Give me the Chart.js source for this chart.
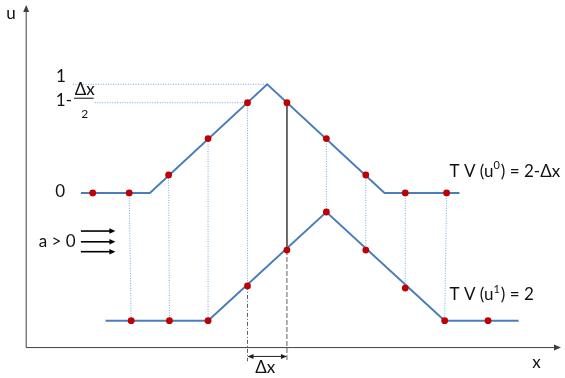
<!DOCTYPE html>
<html><head><meta charset="utf-8">
<script src="https://cdn.jsdelivr.net/npm/chart.js@4"></script>
<style>html,body{margin:0;padding:0;background:#fff}canvas{display:block}</style>
</head><body>
<canvas id="c" width="565" height="378"></canvas>
<script>
// x in units of the grid step Δx, u = solution value
// sampled points of u^0 (upper) and u^1 (lower)
const topX = [0.075, 1, 2, 3, 4, 5, 6, 7, 8, 9.05];
const topU = [0, 0, 0.165, 0.5, 0.83, 0.83, 0.5, 0.165, 0, 0];
const botX = [1.05, 2.02, 3, 4, 5, 6, 7, 8, 9, 10.1];
const botU = [0, 0, 0, 0.32, 0.65, 1, 0.65, 0.3, 0, 0];
// continuous profiles (vertices)
const u0X = [-0.225, 1.525, 4.5, 7.475, 9.375];
const u0U = [0, 0, 1, 0, 0];
const u1X = [0.4, 3, 6, 9, 10.875];
const u1U = [0, 0, 1, 0, 0];
// labels
const yTickLabels = ['1', '0'];
const yTickValues = [1, 0];
const fracLevel = 0.83;
const tvLabel0 = ['T V (u', '0', ') = 2-Δx'];
const tvLabel1 = ['T V (u', '1', ') = 2'];
const axisLabels = ['u', 'x'];
const deltaLabel = 'Δx';
const speedLabel = 'a > 0';

const LOWER = -1.1757;          // vertical shift of the u^1 profile
const AX_U = -1.4234, AX_X = -1.6125;

const pts = (xs, us, off = 0) => xs.map((x, i) => ({ x, y: us[i] + off }));

const BLUE = 'rgb(74,126,187)';
const RED = 'rgb(192,0,0)';
const GUIDE = 'rgba(91,155,213,0.85)';
const FONT = 'Lato, "Open Sans", sans-serif';

const datasets = [];
datasets.push({ data: pts(topX, topU), showLine: false, pointRadius: 3.4, pointBackgroundColor: RED, pointBorderWidth: 0, order: 0 });
datasets.push({ data: pts(botX, botU, LOWER), showLine: false, pointRadius: 3.4, pointBackgroundColor: RED, pointBorderWidth: 0, order: 0 });
datasets.push({ data: pts(u0X, u0U), showLine: true, borderColor: BLUE, borderWidth: 2, pointRadius: 0, order: 1 });
datasets.push({ data: pts(u1X, u1U, LOWER), showLine: true, borderColor: BLUE, borderWidth: 2, pointRadius: 0, order: 1 });
// vertical guides linking u^0_j to u^1_j
for (let j = 1; j < topX.length; j++) {
  const b = j - 1;
  const solid = (j === 5);
  datasets.push({
    data: [{ x: topX[j], y: topU[j] }, { x: botX[b], y: botU[b] + LOWER }],
    showLine: true, pointRadius: 0, order: 2,
    borderColor: solid ? '#555555' : GUIDE, borderWidth: 1,
    borderDash: solid ? [] : [1, 1.5]
  });
}
// dimension extension lines below the lower profile
[3, 4].forEach((b, k) => {
  datasets.push({
    data: [{ x: botX[b], y: botU[b] + LOWER }, { x: botX[b], y: -1.55 }],
    showLine: true, pointRadius: 0, order: 2,
    borderColor: '#606060', borderWidth: 1,
    borderDash: k === 0 ? [4, 2, 1, 2] : [5, 2]
  });
});
// horizontal guides to the u axis labels
datasets.push({ data: [{ x: -0.425, y: 1 }, { x: 4.5, y: 1 }], showLine: true, pointRadius: 0, order: 2, borderColor: GUIDE, borderWidth: 1, borderDash: [1, 1.5] });
datasets.push({ data: [{ x: 0.125, y: fracLevel }, { x: topX[4], y: fracLevel }], showLine: true, pointRadius: 0, order: 2, borderColor: GUIDE, borderWidth: 1, borderDash: [1, 1.5] });

function arrowHead(ctx, x, y, dir, len = 7, hw = 3) {
  ctx.save();
  ctx.translate(x, y); ctx.rotate(dir);
  ctx.beginPath(); ctx.moveTo(0, 0); ctx.lineTo(-len, -hw); ctx.lineTo(-len, hw); ctx.closePath();
  ctx.fill(); ctx.restore();
}
function runs(ctx, x, y, parts, size) {
  // parts: [normal, superscript, normal]
  ctx.textAlign = 'left'; ctx.textBaseline = 'middle';
  let cx = x;
  parts.forEach((p, i) => {
    const sup = i === 1;
    ctx.font = (sup ? Math.round(size * 0.62) : size) + 'px ' + FONT;
    ctx.fillText(p, cx, sup ? y - size * 0.32 : y);
    cx += ctx.measureText(p).width + (sup ? 1 : 0);
  });
}

const annot = {
  id: 'annot',
  afterDatasetsDraw(chart) {
    const ctx = chart.ctx, xs = chart.scales.x, ys = chart.scales.y;
    const X = v => xs.getPixelForValue(v), Y = v => ys.getPixelForValue(v);
    ctx.save();
    ctx.strokeStyle = '#404040'; ctx.fillStyle = '#404040'; ctx.lineWidth = 1;
    // axes
    ctx.beginPath();
    ctx.moveTo(X(AX_X), Y(AX_U)); ctx.lineTo(X(AX_X), Y(1.70));
    ctx.moveTo(X(AX_X), Y(AX_U)); ctx.lineTo(X(11.9), Y(AX_U));
    ctx.stroke();
    arrowHead(ctx, X(AX_X), Y(1.73), -Math.PI / 2);
    arrowHead(ctx, X(11.95), Y(AX_U), 0);
    // dimension arrow Δx
    ctx.fillStyle = '#202020'; ctx.strokeStyle = '#202020';
    const dy = Y(-1.505);
    ctx.beginPath(); ctx.moveTo(X(botX[3]) + 2, dy); ctx.lineTo(X(botX[4]) - 2, dy); ctx.stroke();
    arrowHead(ctx, X(botX[3]), dy, Math.PI, 6, 2.5);
    arrowHead(ctx, X(botX[4]), dy, 0, 6, 2.5);
    // a > 0 arrows
    ctx.fillStyle = '#000'; ctx.strokeStyle = '#000'; ctx.lineWidth = 1.6;
    [-0.351, -0.450, -0.541].forEach(u => {
      ctx.beginPath(); ctx.moveTo(X(-0.225), Y(u)); ctx.lineTo(X(0.55), Y(u)); ctx.stroke();
      arrowHead(ctx, X(0.65), Y(u), 0, 6, 2.8);
    });
    // texts
    ctx.fillStyle = '#111';
    const F = 17;
    ctx.font = F + 'px ' + FONT;
    ctx.textBaseline = 'middle';
    ctx.textAlign = 'center';
    ctx.fillText(axisLabels[0], 11, 14);
    ctx.fillText(axisLabels[1], X(11.33), Y(-1.56));
    ctx.fillText(yTickLabels[0], X(-0.73), Y(1) - 8);
    ctx.fillText(yTickLabels[1], X(-0.75), Y(yTickValues[1]) - 1);
    // 1 - Δx/2
    ctx.textAlign = 'right';
    ctx.fillText('1-', X(-0.45), Y(fracLevel) - 2);
    ctx.textAlign = 'center';
    ctx.fillText(deltaLabel, X(-0.125), Y(fracLevel) - 13);
    ctx.font = '12px ' + FONT;
    ctx.fillText('2', X(-0.125), Y(fracLevel) + 11);
    ctx.strokeStyle = '#111'; ctx.lineWidth = 1;
    ctx.beginPath(); ctx.moveTo(X(-0.4), Y(fracLevel) - 4.5); ctx.lineTo(X(0.1), Y(fracLevel) - 4.5); ctx.stroke();
    ctx.font = F + 'px ' + FONT;
    // a > 0
    ctx.textAlign = 'right';
    ctx.fillText(speedLabel, X(-0.36), Y(-0.45));
    // Δx below axis
    ctx.textAlign = 'center';
    ctx.fillText(deltaLabel, X(4.45), Y(-1.61));
    // TV labels
    runs(ctx, X(9.125), Y(0.2), tvLabel0, F);
    runs(ctx, X(9.125), Y(LOWER + 0.24), tvLabel1, F);
    ctx.restore();
  }
};

new Chart(document.getElementById('c'), {
  type: 'scatter',
  data: { datasets },
  options: {
    responsive: false, animation: false,
    layout: { padding: 0 },
    plugins: { legend: { display: false }, tooltip: { enabled: false } },
    elements: { line: { tension: 0 } },
    scales: {
      x: { type: 'linear', display: false, min: -2.175, max: 11.95 },
      y: { type: 'linear', display: false, min: -1.6667, max: 1.7387 }
    }
  },
  plugins: [annot]
});
</script>
</body></html>
